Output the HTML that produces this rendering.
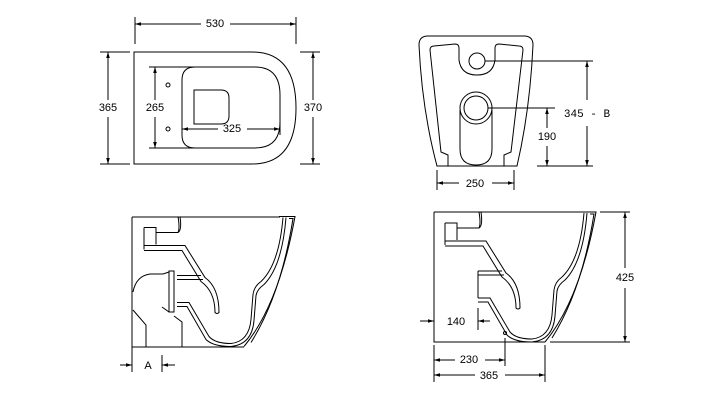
<!DOCTYPE html>
<html><head><meta charset="utf-8"><style>
html,body{margin:0;padding:0;background:#fff;}
svg{display:block}
text{font-family:"Liberation Sans",sans-serif;font-size:11px;fill:#000;text-anchor:middle;dominant-baseline:middle}
</style></head><body>
<svg width="719" height="401" viewBox="0 0 719 401" xmlns="http://www.w3.org/2000/svg">
<defs>
<marker id="a" viewBox="0 0 10 10" refX="10" refY="5" markerWidth="6" markerHeight="6" orient="auto-start-reverse"><path d="M0,2 L10,5 L0,8 Z" fill="#000"/></marker>
</defs>
<g fill="none" stroke="#000" stroke-width="1">
<!-- TOP LEFT -->
<path d="M134,52 L252,52 Q296,52 296,108 Q296,164 252,164 L134,164 Z"/>
<path d="M149,67 L255,67 Q280,67 280,95 L280,122 Q280,148 255,148 L149,148"/>
<path d="M195,67 Q182,67 182,80 L182,135 Q182,148 195,148"/>
<path d="M194,90 L221,90 Q229,90 229,98 L229,116 Q229,124 221,124 L194,124 Z"/>
<circle cx="168" cy="85" r="2"/><circle cx="168" cy="129" r="2"/>
<path d="M135,17 L135,44 M296,17 L296,44"/>
<path d="M135,24 L201,24 M230,24 L296,24" marker-start="url(#a)" marker-end="url(#a)"/>
<path d="M100,52 L130,52 M100,164 L130,164"/>
<path d="M108,52 L108,100 M108,117 L108,164" marker-start="url(#a)" marker-end="url(#a)"/>
<path d="M300,52 L320,52 M300,164 L320,164"/>
<path d="M313,52 L313,100 M313,117 L313,164" marker-start="url(#a)" marker-end="url(#a)"/>
<path d="M155,67 L155,100 M155,117 L155,148" marker-start="url(#a)" marker-end="url(#a)"/>
<path d="M182,129 L218,129 M247,129 L280,129" marker-start="url(#a)" marker-end="url(#a)"/>
<path d="M280,118 L280,135"/>
<!-- TOP RIGHT -->
<path d="M437,166 Q422,110 419,45 Q419,36 428,36 L524,36 Q533,36 533,45 Q530,110 517,166 Z"/>
<path d="M437,166 L517,166"/>
<path d="M448,166 L448,155 L441,152 L430,50 Q430,46 434,46 L455,44 Q459,44 459,48 L459,60 Q461,75 477,75 Q493,75 495,60 L495,48 Q495,44 499,44 L519,46 Q523,46 523,50 L511,152 L504,155 L504,166"/>
<circle cx="477" cy="61" r="8"/>
<circle cx="476" cy="108" r="16"/><circle cx="476" cy="108" r="12"/>
<path d="M460,110 L460,149 Q460,165 476,165 Q492,165 492,149 L492,110"/>
<path d="M485,61 L593,61 M488,108 L555,108 M537,166 L593,166"/>
<path d="M587,61 L587,100 M587,126 L587,166" marker-start="url(#a)" marker-end="url(#a)"/>
<path d="M547,108 L547,128 M547,146 L547,166" marker-start="url(#a)" marker-end="url(#a)"/>
<path d="M437,170 L437,190 M514,170 L514,190"/>
<path d="M437,183 L459,183 M492,183 L514,183" marker-start="url(#a)" marker-end="url(#a)"/>
<!-- BOTTOM RIGHT -->
<g>
<path d="M445,223 L457,223 L457,240 M445,223 L445,245"/>
<path d="M457,228 L479,228 Q481,224 479,212 M479,228 Q483,226 481,212"/>
<path d="M445,241 L486,241 L506,273 Q520,283 520,308 Q518,310 516,308 Q516,287 502,277 L483,246 L445,246"/>
<path d="M478,271 L502,271 M478,275 L504,275"/>
<path d="M478,298 L490,298 L510,332 Q516,339 532,339 Q550,337 552,315 L554,290 Q555,282 562,277 Q580,260 584,213"/>
<path d="M478,302 L488,302 L507,335 Q514,342 532,342 Q553,340 555,316 L557,291 Q558,285 565,280 Q583,262 587,213"/>
<path d="M580,212 L596,212 Q580,300 545,342"/>
<path d="M590,214 L594,214 Q582,290 552,338"/>
</g>
<path d="M434,212 L580,212 M434,212 L434,342 L545,342"/>
<path d="M478,271 L478,298"/>
<path d="M600,212 L630,212 M550,342 L630,342"/>
<path d="M625,212 L625,268 M625,288 L625,342" marker-start="url(#a)" marker-end="url(#a)"/>
<path d="M420,321 L434,321" marker-end="url(#a)"/>
<path d="M490,321 L478,321" marker-end="url(#a)"/>
<path d="M478,308 L478,330"/>
<circle cx="505" cy="333" r="1.5"/>
<path d="M434,345 L434,382 M505,338 L505,366 M545,345 L545,382"/>
<path d="M434,360 L455,360 M485,360 L505,360" marker-start="url(#a)" marker-end="url(#a)"/>
<path d="M434,375 L475,375 M505,375 L545,375" marker-start="url(#a)" marker-end="url(#a)"/>
<!-- BOTTOM LEFT -->
<g transform="translate(-301,4.5)">
<path d="M445,223 L457,223 L457,240 M445,223 L445,245"/>
<path d="M457,228 L479,228 Q481,224 479,212 M479,228 Q483,226 481,212"/>
<path d="M445,241 L486,241 L506,273 Q520,283 520,308 Q518,310 516,308 Q516,287 502,277 L483,246 L445,246"/>
<path d="M478,271 L502,271 M478,275 L504,275"/>
<path d="M478,298 L490,298 L510,332 Q516,339 532,339 Q550,337 552,315 L554,290 Q555,282 562,277 Q580,260 584,213"/>
<path d="M478,302 L488,302 L507,335 Q514,342 532,342 Q553,340 555,316 L557,291 Q558,285 565,280 Q583,262 587,213"/>
<path d="M580,212 L596,212 Q580,300 545,342"/>
<path d="M590,214 L594,214 Q582,290 552,338"/>
</g>
<path d="M132,217 L280,217 M132,217 L132,372 M132,347 L244,347"/>
<rect x="169" y="271" width="5" height="41" fill="#fff"/>
<path d="M133,292 Q136,276 150,274 L163,274 L169,272"/>
<path d="M133,310 L146,325 L146,347"/>
<path d="M162,307 L169,312 M174,316 L182,322 L182,347"/>
<path d="M162,355 L162,372"/>
<path d="M120,365 L132,365" marker-end="url(#a)"/>
<path d="M175,365 L162,365" marker-end="url(#a)"/>
</g>
<text x="215" y="24">530</text>
<text x="108" y="108">365</text>
<text x="313" y="108">370</text>
<text x="155" y="108">265</text>
<text x="232" y="129">325</text>
<text x="587" y="114" style="font-family:'Liberation Mono',monospace">345 - B</text>
<text x="547" y="137">190</text>
<text x="475" y="184">250</text>
<text x="625" y="278">425</text>
<text x="456" y="322">140</text>
<text x="469" y="360">230</text>
<text x="489" y="376">365</text>
<text x="148" y="366">A</text>
</svg>
</body></html>
